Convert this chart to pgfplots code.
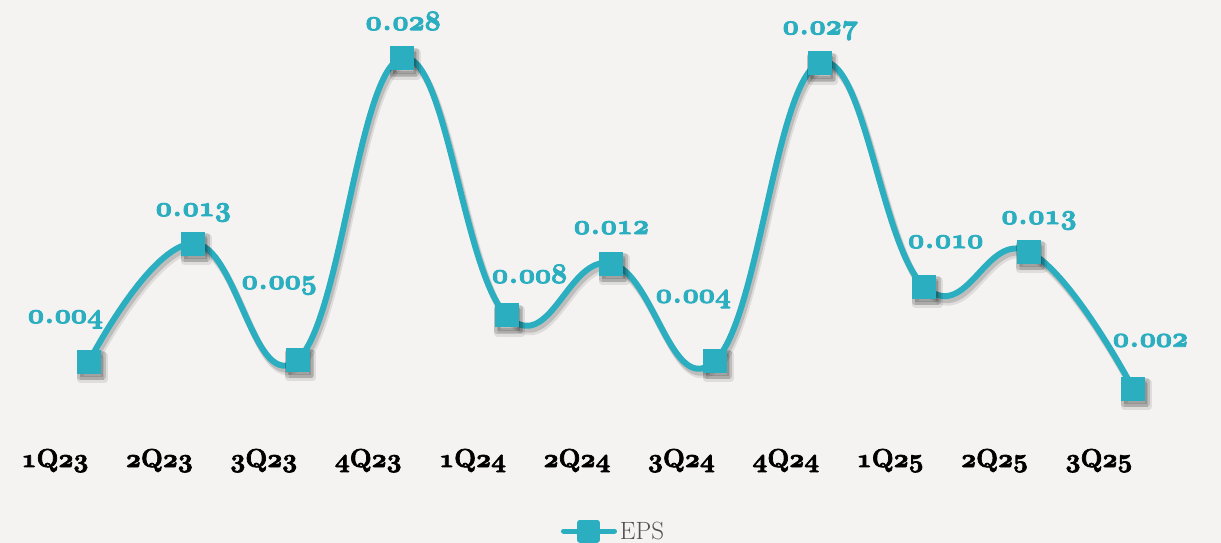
\RequirePackage{fix-cm}
\documentclass[border=0pt]{standalone}
\usepackage{pgfplots}
\usepackage{pgfplotstable}
\pgfplotsset{compat=1.18}

\definecolor{epsteal}{HTML}{2BAEBF}
\definecolor{chartbg}{HTML}{F5F3F1}
\definecolor{legendgray}{HTML}{505050}

% old-style figures (bold CM math italic digits)
\newcommand\osn[1]{{\usefont{OML}{cmm}{b}{it}#1}}
% heavier text: fill + stroke
\newcommand\heavy[1]{\special{pdf:literal 2 Tr #1 w}}
\def\epslab#1.#2\relax{\heavy{0.9}\osn{#1}\kern1pt.\kern1pt\osn{#2}}
\newcommand\qlab[2]{\heavy{0.7}\osn{#1}Q\osn{#2}}

% x = quarter index, y = EPS, label, label offset (pt)
\pgfplotstableread{
x  y        lab    dx     dy
0  0.00416  0.004  -23.5  38.5
1  0.01343  0.013  0      27.5
2  0.00432  0.005  -18.5  70.5
3  0.02800  0.028  1      28
4  0.00778  0.008  23     32.5
5  0.01186  0.012  0.5    29.5
6  0.00424  0.004  -22    57.8
7  0.02761  0.027  0.5    28.7
8  0.01005  0.010  21.5   38.5
9  0.01280  0.013  10.5   27.5
10 0.00204  0.002  17.5   41.8
}\epsdata

\begin{document}
\begin{tikzpicture}
\fill[chartbg] (0,0) rectangle (1221pt,543pt);
\begin{axis}[
  at={(89pt,128.5pt)}, anchor=south west,
  scale only axis, width=1044pt, height=381.9pt,
  xmin=0, xmax=10, ymin=0, ymax=0.03,
  clip=false,
  axis line style={draw=none},
  ytick=\empty,
  xtick={0,...,10},
  xticklabels={{\qlab{1}{23}},{\qlab{2}{23}},{\qlab{3}{23}},{\qlab{4}{23}},
               {\qlab{1}{24}},{\qlab{2}{24}},{\qlab{3}{24}},{\qlab{4}{24}},
               {\qlab{1}{25}},{\qlab{2}{25}},{\qlab{3}{25}}},
  major tick length=0pt,
  xticklabel style={anchor=base, xshift=-34pt, yshift=-52.5pt,
                    font=\bfseries\fontsize{26}{26}\selectfont, text=black},
  legend style={at={(axis description cs:0.4521,-0.3051)}, anchor=west,
                draw=none, fill=none, inner sep=0pt, outer sep=0pt,
                column sep=3pt, nodes={inner sep=0pt},
                font=\fontsize{25}{25}\selectfont, text=legendgray},
  legend image code/.code={
    \draw[line width=5pt, line cap=round, epsteal] (2.5pt,0pt) -- (53.5pt,0pt);
    \fill[epsteal] (19pt,-8.5pt) rectangle (36pt,8.5pt);},
]
% soft shadow
\addplot[black, opacity=0.09, line width=7pt, smooth, tension=0.75, line join=round,
         mark=square*, mark size=12pt, xshift=3pt, yshift=-6pt, forget plot]
  table[x=x, y=y] {\epsdata};
\addplot[black, opacity=0.14, line width=6pt, smooth, tension=0.75, line join=round,
         mark=square*, mark size=11.5pt, xshift=2pt, yshift=-4pt, forget plot]
  table[x=x, y=y] {\epsdata};
% EPS line
\addplot[epsteal, line width=6pt, smooth, tension=0.75, line join=round,
         mark=square*, mark size=11.5pt, mark options={fill=epsteal, draw=epsteal, line width=0pt},
         point meta=explicit symbolic,
         visualization depends on={\thisrow{dx} \as \ldx},
         visualization depends on={\thisrow{dy} \as \ldy},
         nodes near coords={\expandafter\epslab\pgfplotspointmeta\relax},
         every node near coord/.style={anchor=base, xshift=\ldx pt, yshift=\ldy pt,
                 font=\bfseries\fontsize{28}{28}\selectfont, text=epsteal, inner sep=0pt}]
  table[x=x, y=y, meta=lab] {\epsdata};
\addlegendentry{EPS}
\end{axis}
\pgfresetboundingbox
\path[use as bounding box] (0,0) rectangle (1221pt,543pt);
\end{tikzpicture}
\end{document}
